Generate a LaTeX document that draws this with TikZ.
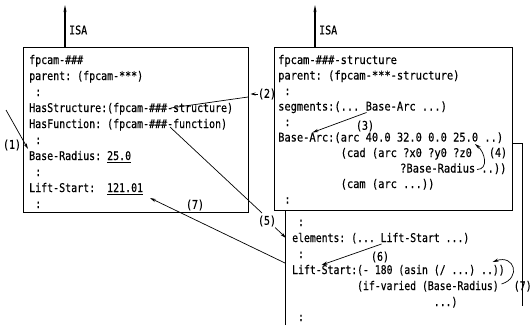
\documentclass[tikz,border=0pt]{standalone}
\usepackage{fontspec}
\newfontfamily\fa[FakeStretch=0.830,FakeBold=0.4]{DejaVu Sans Mono}
\newfontfamily\fb[FakeStretch=0.865,FakeBold=0.4]{DejaVu Sans Mono}
\newfontfamily\fc[FakeStretch=0.817,FakeBold=0.4]{DejaVu Sans Mono}
\usetikzlibrary{calc,arrows.meta}
\begin{document}
\begin{tikzpicture}[x=1pt,y=-1pt,
  txta/.style={anchor=base west,inner sep=0pt,font=\fa\fontsize{12}{14}\selectfont\frenchspacing},
  txtb/.style={anchor=base west,inner sep=0pt,font=\fb\fontsize{12}{14}\selectfont\frenchspacing},
  txtc/.style={anchor=base west,inner sep=0pt,font=\fc\fontsize{12}{14}\selectfont\frenchspacing},
  lbl/.style={inner sep=0pt,font=\fa\fontsize{12}{14}\selectfont},
  frame/.style={draw,line width=0.9pt,inner sep=0pt},
  conn/.style={line width=0.7pt},
  arr/.style={conn,-{Stealth[length=6pt,width=3.2pt]}},
  isa/.style={line width=1.1pt,-{Stealth[length=7pt,width=3pt]}}
]
\useasboundingbox (0,0) rectangle (532,325);
\fill[white] (0,0) rectangle (532,325);

% function frame, partly hidden behind the structure frame
\coordinate (fbl) at (285,325);
\coordinate (ftl) at (285,143);
\coordinate (ftr) at (522,143);
\coordinate (fbr) at (522,306);
\draw[line width=0.9pt] (fbl) -- (ftl) -- (ftr) -- (fbr);

% frames
\node[frame, anchor=north west, minimum width=225pt, minimum height=165pt] (lbox) at (23,47) {};
\node[frame, fill=white, anchor=north west, minimum width=238pt, minimum height=163pt] (sbox) at (274,47) {};

% ISA links
\coordinate (isaLtop) at (65,5);
\draw[isa] (isaLtop |- lbox.north) -- (isaLtop);
\node[lbl, anchor=west] (isaL) at (69,30) {ISA};
\coordinate (isaRtop) at (315,5);
\draw[isa] (isaRtop |- sbox.north) -- (isaRtop);
\node[lbl, anchor=west] (isaR) at (319,30) {ISA};

% left frame text
\node[txta] (a1) at (29,64) {fpcam-\#\#\#};
\node[txta] (a2) at (29,80) {parent: (fpcam-***)};
\node[txta] (a3) at (35,96) {:};
\node[txta] (a4) at (29,112) {HasStructure:(fpcam-\#\#\#-structure)};
\node[txta] (a5) at (29,128) {HasFunction: (fpcam-\#\#\#-function)};
\node[txta] (a6) at (35,144) {:};
\node[txta] (a7) at (29,160) {Base-Radius: 25.0};
\node[txta] (a8) at (35,176) {:};
\node[txta] (a9) at (29,192) {Lift-Start:\ \ 121.01};
\node[txta] (a10) at (35,208) {:};
\draw[conn] ($(a7.base west)+(13*6,2.5)$) -- ($(a7.base west)+(17*6,2.5)$);
\draw[conn] ($(a9.base west)+(13*6,2.5)$) -- ($(a9.base west)+(19*6,2.5)$);

% structure frame text
\node[txtb] (b1) at (278,64) {fpcam-\#\#\#-structure};
\node[txtb] (b2) at (278,79.5) {parent: (fpcam-***-structure)};
\node[txtb] (b3) at (284.25,95) {:};
\node[txtb] (b4) at (278,110.5) {segments:(... Base-Arc ...)};
\node[txtb] (b5) at (284.25,126) {:};
\node[txtb] (b6) at (278,141.5) {Base-Arc:(arc 40.0 32.0 0.0 25.0 ..)};
\node[txtb] (b7) at (340.5,157) {(cad (arc ?x0 ?y0 ?z0};
\node[txtb] (b8) at (400,172.5) {?Base-Radius ..))};
\node[txtb] (b9) at (340.5,188) {(cam (arc ...))};
\node[txtb] (b10) at (284.25,203.5) {:};

% function frame text
\node[txtc] (c1) at (297.9,226) {:};
\node[txtc] (c2) at (292,242) {elements: (... Lift-Start ...)};
\node[txtc] (c3) at (297.9,258) {:};
\node[txtc] (c4) at (292,274) {Lift-Start:(- 180 (asin (/ ...) ..))};
\node[txtc] (c5) at (356.9,290) {(if-varied (Base-Radius)};
\node[txtc] (c6) at (433.6,306) {...)};
\node[txtc] (c7) at (297.9,321) {:};

% (1)
\node[lbl] (n1) at (12,145) {(1)};
\coordinate (p1) at (6,110);
\draw[arr] (p1) -- ($(a7.base west)+(-1,-11)$);

% (2)
\node[lbl] (n2) at (267,94) {(2)};
\coordinate (t2) at (250.5,94);
\draw[conn,-{Stealth[length=5pt,width=3pt]}] (n2.west) -- (t2);
\coordinate (e2) at (248,97);
\draw[conn] ($(a4.base west)+(23.6*6,-4)$) -- (e2);

% (3)
\node[lbl] (n3) at (365,126) {(3)};
\draw[arr] ($(b4.base west)+(14*6.25+1,2)$) -- ($(b6.base west)+(5.5*6.25,-9)$);

% (4)
\node[lbl] (n4) at (498,153) {(4)};
\draw[arr] ($(b8.base west)+(12*6.25+2,-3)$) .. controls +(12,0) and +(10,8) .. ($(b6.base west)+(31.5*6.25,2.5)$);

% (5)
\node[lbl] (n5) at (267,221) {(5)};
\coordinate (e5) at (262,213);
\draw[conn] ($(a5.base west)+(23.5*6,-1)$) -- (e5);
\coordinate (t5) at (286,238);
\draw[arr] ($(n5.south east)+(-1,1)$) -- (t5);

% (6)
\node[lbl] (n6) at (380,257) {(6)};
\draw[arr] ($(c2.base west)+(15*5.9+1,2)$) -- ($(c4.base west)+(5*5.9,-9)$);

% (7) to Lift-Start value
\node[lbl] (n7) at (195,205) {(7)};
\coordinate (q7) at (285,263);
\draw[arr] (q7) -- ($(a9.base west)+(19*6+7,6)$);

% (7) at the right, self reference
\node[lbl, anchor=base west] (n7b) at (513.5,290) {(7)};
\draw[arr] ($(c5.base west)+(24*5.9+3,-6)$) .. controls +(20,-6) and +(22,-8) .. ($(c4.base west)+(34*5.9,-12)$);
\end{tikzpicture}
\end{document}
